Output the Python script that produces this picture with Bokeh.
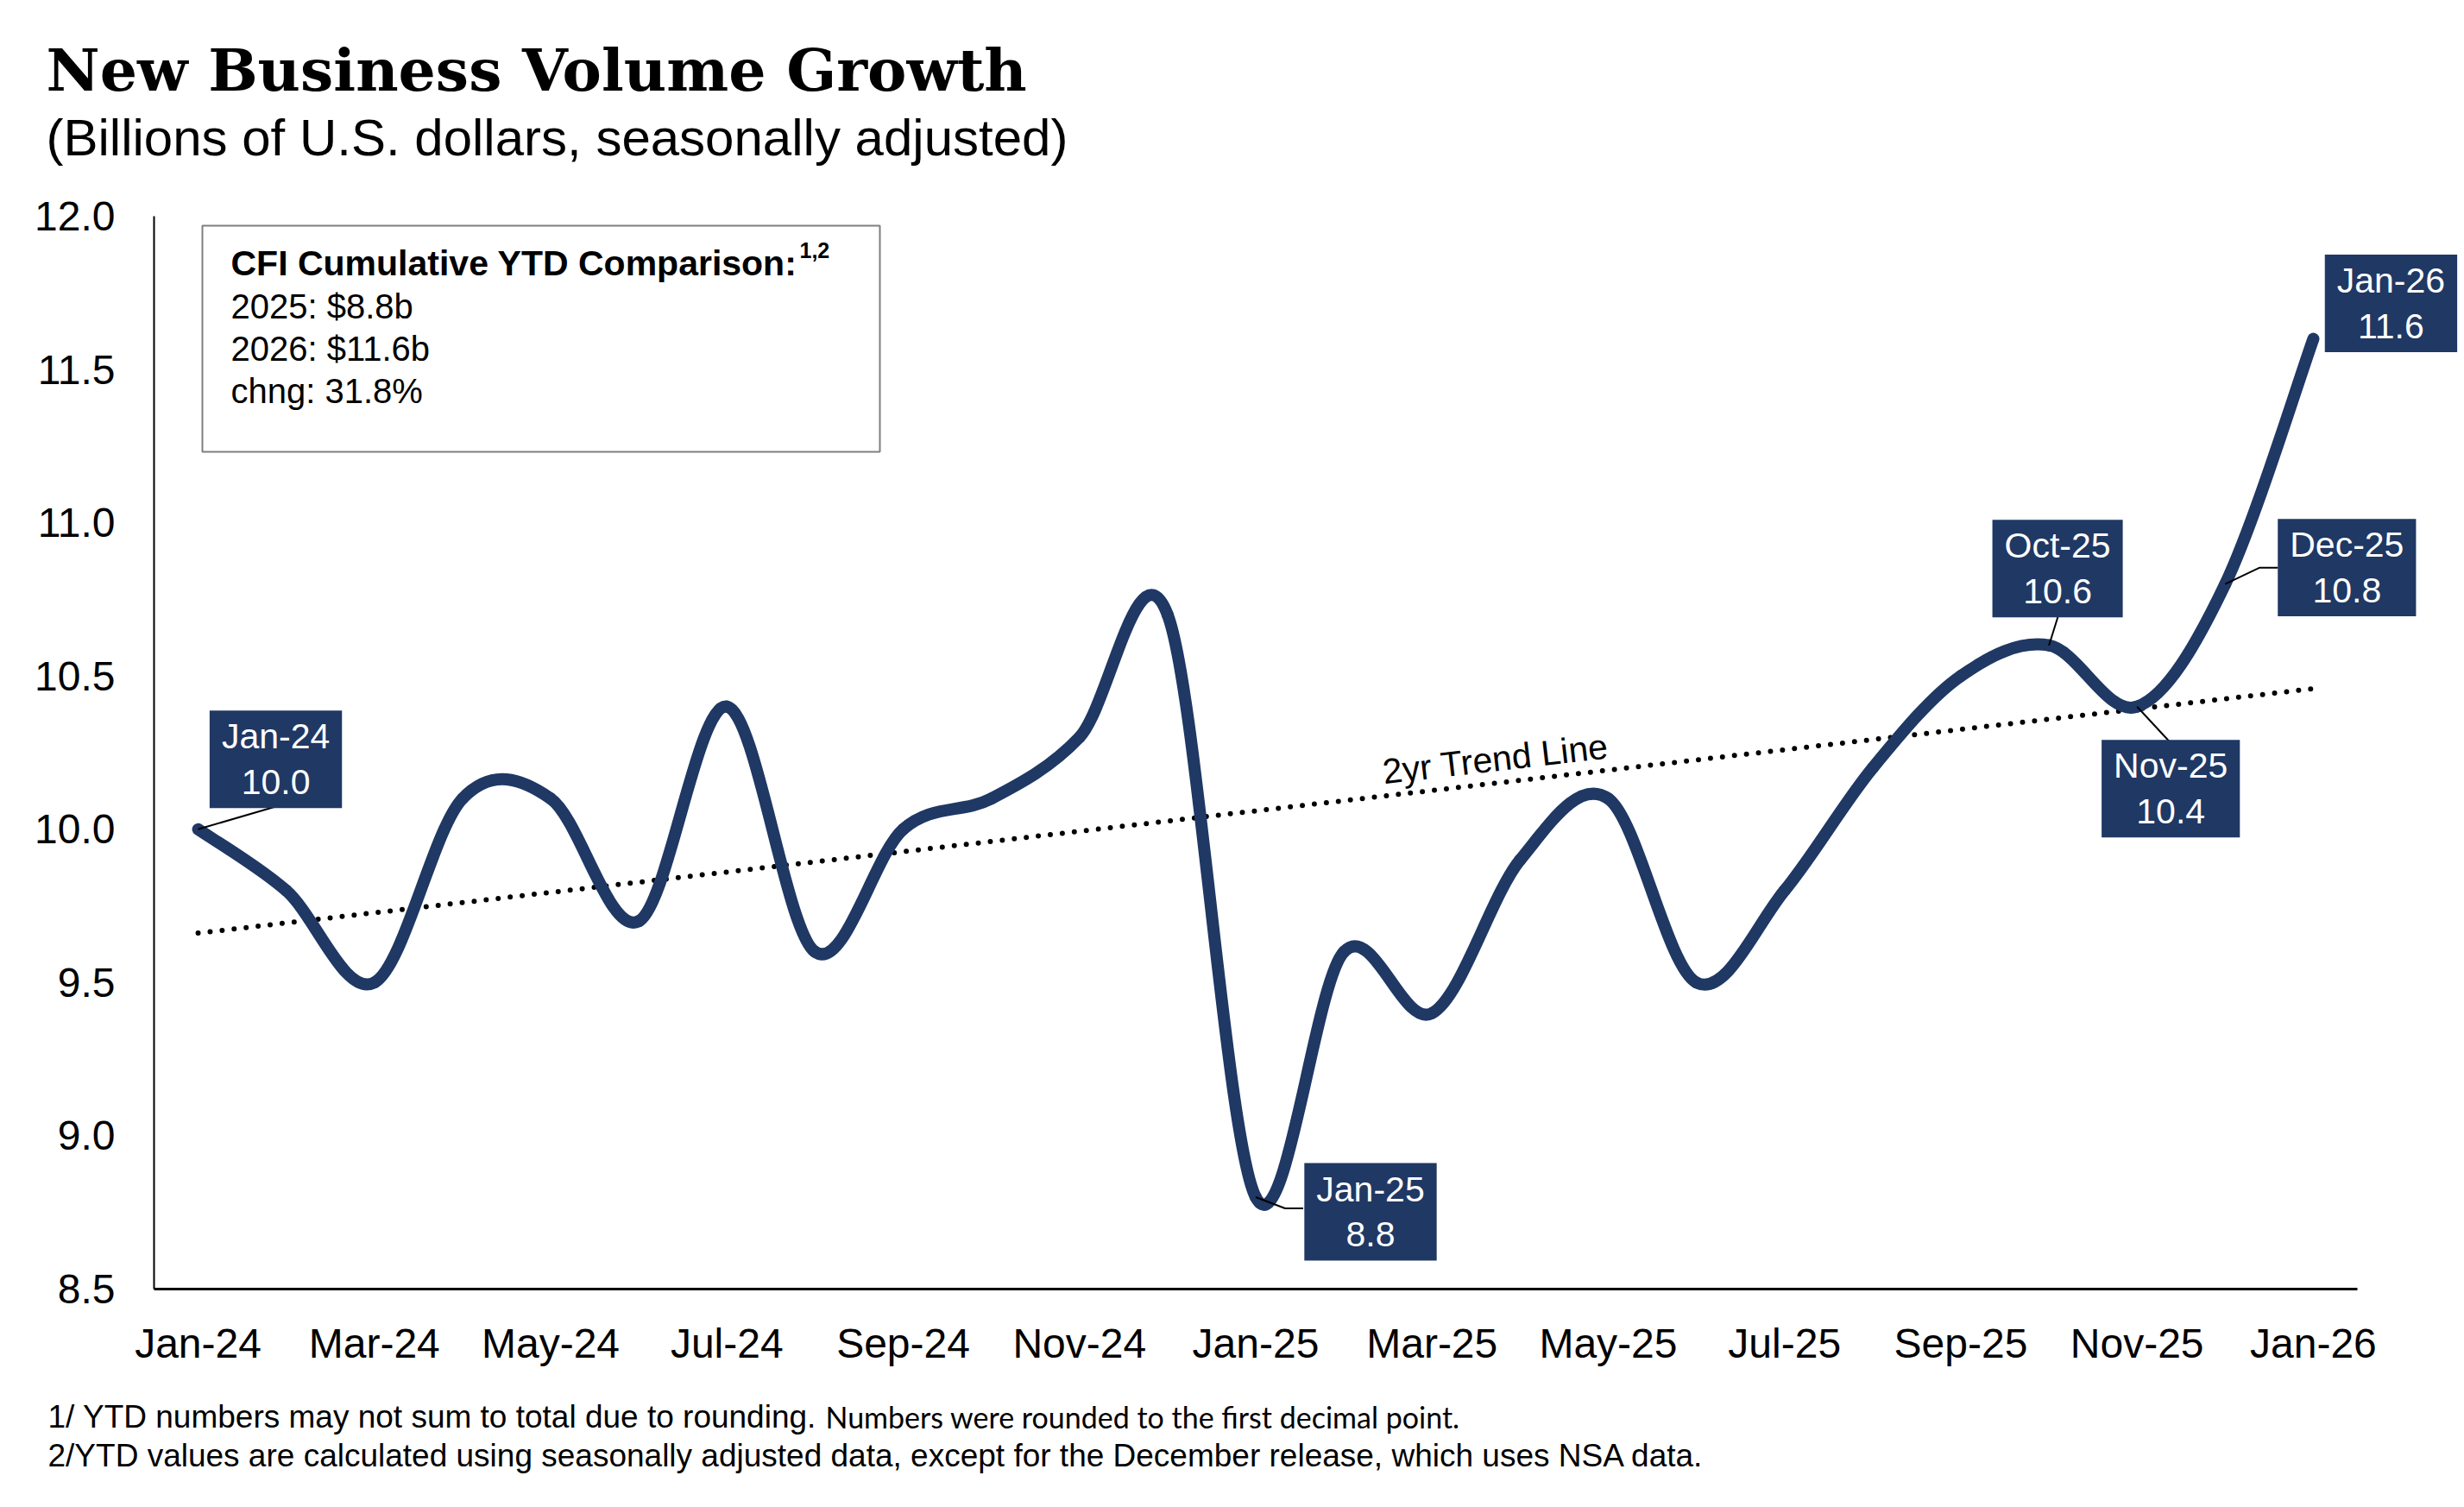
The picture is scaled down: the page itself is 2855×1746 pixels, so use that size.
import math
import numpy as np
from bokeh.plotting import figure
from bokeh.layouts import column
from bokeh.models import Range1d, FixedTicker, NumeralTickFormatter, Label, BoxAnnotation
from bokeh.embed import file_html
from bokeh.resources import INLINE

# ---------------- data ----------------
months = ["Jan-24", "Feb-24", "Mar-24", "Apr-24", "May-24", "Jun-24", "Jul-24",
          "Aug-24", "Sep-24", "Oct-24", "Nov-24", "Dec-24", "Jan-25", "Feb-25",
          "Mar-25", "Apr-25", "May-25", "Jun-25", "Jul-25", "Aug-25", "Sep-25",
          "Oct-25", "Nov-25", "Dec-25", "Jan-26"]
volume = [10.0, 9.8, 9.5, 10.1, 10.1, 9.7, 10.4, 9.6, 10.0, 10.1, 10.3, 10.7,
          8.8, 9.6, 9.4, 9.9, 10.1, 9.5, 9.8, 10.2, 10.5, 10.6, 10.4, 10.8, 11.6]
x_tick_months = ["Jan-24", "Mar-24", "May-24", "Jul-24", "Sep-24", "Nov-24", "Jan-25",
                 "Mar-25", "May-25", "Jul-25", "Sep-25", "Nov-25", "Jan-26"]
y_ticks = [8.5, 9.0, 9.5, 10.0, 10.5, 11.0, 11.5, 12.0]
callout_months = ["Jan-24", "Jan-25", "Oct-25", "Nov-25", "Dec-25", "Jan-26"]
ytd_title = "CFI Cumulative YTD Comparison:"
ytd_sup = "1,2"
ytd_lines = ["2025: $8.8b", "2026: $11.6b", "chng: 31.8%"]
title_text = "New Business Volume Growth"
subtitle_text = "(Billions of U.S. dollars, seasonally adjusted)"
foot1a = "1/ YTD numbers may not sum to total due to rounding."
foot1b = "Numbers were rounded to the first decimal point."
foot2 = "2/YTD values are calculated using seasonally adjusted data, except for the December release, which uses NSA data."
trend_text = "2yr Trend Line"

# ---------------- layout / style ----------------
NAVY = "#1F3864"
W = 2850
HEAD_H = 200           # header strip (page y 0..200)
MAIN_H = 1410          # main chart (page y 200..1610)
FOOT_H = 120           # footnotes (page y 1610..1730)
FL, FT, FB = 178, 250, 1493      # frame left / top / bottom in page px
X0, X1 = -0.5, len(months) - 0.5  # visible months span
Y0, Y1 = 8.5, 12.0
AXIS_RIGHT = 2731
ppx = (AXIS_RIGHT - FL) / (X1 - X0)
ppy = (FB - FT) / (Y1 - Y0)
X_END = X0 + (W - FL) / ppx       # frame runs to the page edge so callouts are not cut


def dx(X):
    return X0 + (X - FL) / ppx


def dy(Y):
    return Y1 - (Y - FT) / ppy


def no_align(f):
    try:
        f.frame_align = False
    except Exception:
        pass


# callout box centre offsets (px, up positive) and leader paths (px offsets)
callout_style = {
    "Jan-24": dict(off=(90, 81), leader=[(0, 0), (89, 26)]),
    "Jan-25": dict(off=(133, -17), leader=[(0, 0), (34, -13), (55, -13)]),
    "Oct-25": dict(off=(10, 89), leader=[(0, 0), (11, 35)]),
    "Nov-25": dict(off=(39, -95), leader=[(0, 0), (38, -41)]),
    "Dec-25": dict(off=(141, 19), leader=[(0, 0), (40, 19), (61, 19)]),
    "Jan-26": dict(off=(90, 41), leader=None),
}


def text_strip(height):
    f = figure(width=W, height=height, x_range=Range1d(0, W), y_range=Range1d(height, 0),
               output_backend="svg", toolbar_location=None, title=None,
               x_axis_type=None, y_axis_type=None,
               min_border_left=0, min_border_right=0, min_border_top=0, min_border_bottom=0)
    f.outline_line_color = None
    f.background_fill_color = "white"
    f.border_fill_color = "white"
    no_align(f)
    return f


# ---------------- header ----------------
head = text_strip(HEAD_H)
head.add_layout(Label(x=53, y=80, text=title_text, text_font="DejaVu Serif",
                      text_font_style="bold", text_font_size="68px", text_color="black",
                      text_baseline="alphabetic"))
head.add_layout(Label(x=53, y=159, text=subtitle_text, text_font="Liberation Sans",
                      text_font_size="60px", text_color="black", text_baseline="alphabetic"))

# ---------------- main chart ----------------
p = figure(width=W, height=MAIN_H, x_range=Range1d(X0, X_END), y_range=Range1d(Y0, Y1),
           output_backend="svg", toolbar_location=None, title=None,
           min_border_left=FL, min_border_right=0,
           min_border_top=FT - HEAD_H, min_border_bottom=HEAD_H + MAIN_H - FB)
no_align(p)
p.xgrid.visible = False
p.ygrid.visible = False
p.outline_line_color = None
p.background_fill_color = "white"
p.border_fill_color = "white"

idx = list(range(len(months)))

p.xaxis.ticker = FixedTicker(ticks=[months.index(m) for m in x_tick_months])
p.xaxis.major_label_overrides = {months.index(m): m for m in x_tick_months}
p.xaxis.bounds = (X0, X1)
p.yaxis.ticker = FixedTicker(ticks=y_ticks)
p.yaxis.formatter = NumeralTickFormatter(format="0.0")
p.yaxis.bounds = (Y0, Y1)
for ax in (p.xaxis, p.yaxis):
    ax.major_tick_line_color = None
    ax.minor_tick_line_color = None
    ax.major_tick_out = 0
    ax.major_tick_in = 0
    ax.minor_tick_out = 0
    ax.minor_tick_in = 0
    ax.axis_line_color = "black"
    ax.major_label_text_font = "Liberation Sans"
    ax.major_label_text_font_size = "48px"
    ax.major_label_text_color = "black"
p.xaxis.axis_line_width = 3
p.yaxis.axis_line_width = 2
p.xaxis.major_label_standoff = 36
p.yaxis.major_label_standoff = 45

# trend line (least squares over the 25 months)
coef = np.polyfit(idx, volume, 1)
tx = [idx[0], idx[-1]]
ty = list(np.polyval(coef, tx))
p.line(tx, ty, line_color="black", line_width=6, line_dash="0 14", line_cap="round")

# smoothed main line: Catmull-Rom segments drawn as bezier glyphs
n = len(volume)
x0s, y0s, x1s, y1s, cx0s, cy0s, cx1s, cy1s = [], [], [], [], [], [], [], []
for i in range(n - 1):
    im1 = max(i - 1, 0)
    ip2 = min(i + 2, n - 1)
    x0s.append(idx[i]); y0s.append(volume[i])
    x1s.append(idx[i + 1]); y1s.append(volume[i + 1])
    cx0s.append(idx[i] + (idx[i + 1] - idx[im1]) / 6.0)
    cy0s.append(volume[i] + (volume[i + 1] - volume[im1]) / 6.0)
    cx1s.append(idx[i + 1] - (idx[ip2] - idx[i]) / 6.0)
    cy1s.append(volume[i + 1] - (volume[ip2] - volume[i]) / 6.0)
p.bezier(x0=x0s, y0=y0s, x1=x1s, y1=y1s, cx0=cx0s, cy0=cy0s, cx1=cx1s, cy1=cy1s,
         line_color=NAVY, line_width=14, line_cap="round")

# trend label
tmid = 14.72
ang = math.atan(coef[0] * ppy / ppx)
p.add_layout(Label(x=tmid, y=float(np.polyval(coef, tmid)), text=trend_text,
                   angle=ang, text_align="center", text_baseline="alphabetic",
                   y_offset=28, text_font="Liberation Sans", text_font_size="41px",
                   text_color="black"))

# leaders
lxs, lys = [], []
for m in callout_months:
    st = callout_style[m]
    if st["leader"] is None:
        continue
    i = months.index(m)
    v = volume[i]
    lxs.append([i + ox / ppx for ox, oy in st["leader"]])
    lys.append([v + oy / ppy for ox, oy in st["leader"]])
p.multi_line(lxs, lys, line_color="black", line_width=2)

# callout boxes
for m in callout_months:
    i = months.index(m)
    v = volume[i]
    ox, oy = callout_style[m]["off"]
    p.add_layout(Label(x=i, y=v, x_offset=ox, y_offset=oy, text=f"{m}\n{v:.1f}",
                       text_align="center", text_baseline="middle",
                       text_font="Liberation Sans", text_font_size="41px",
                       text_color="white", text_line_height=1.15,
                       background_fill_color=NAVY, background_fill_alpha=1.0,
                       padding=(14, 7)))

# YTD comparison box
p.add_layout(BoxAnnotation(left=dx(234), right=dx(1019), top=dy(261), bottom=dy(523),
                           fill_color=None, fill_alpha=0, line_color="#7f7f7f",
                           line_width=2, line_alpha=1))
p.add_layout(Label(x=dx(267), y=dy(304), text=ytd_title, text_font="Liberation Sans",
                   text_font_style="bold", text_font_size="41px", text_color="black",
                   text_baseline="alphabetic"))
p.add_layout(Label(x=dx(926), y=dy(289), text=ytd_sup, text_font="Liberation Sans",
                   text_font_style="bold", text_font_size="25px", text_color="black",
                   text_baseline="alphabetic"))
for k, line in enumerate(ytd_lines):
    p.add_layout(Label(x=dx(267), y=dy(354 + 49 * k), text=line, text_font="Liberation Sans",
                       text_font_size="40px", text_color="black",
                       text_baseline="alphabetic"))

# ---------------- footer ----------------
foot = text_strip(FOOT_H)
foot.add_layout(Label(x=55, y=31, text=foot1a, text_font="Liberation Sans",
                      text_font_size="37px", text_color="black", text_baseline="alphabetic"))
foot.add_layout(Label(x=956, y=31, text=foot1b, text_font="Lato",
                      text_font_size="34px", text_color="black", text_baseline="alphabetic"))
foot.add_layout(Label(x=55, y=76, text=foot2, text_font="Liberation Sans",
                      text_font_size="37px", text_color="black", text_baseline="alphabetic"))

page = column(head, p, foot, spacing=0)
open("out.html", "w").write(file_html(page, INLINE))
